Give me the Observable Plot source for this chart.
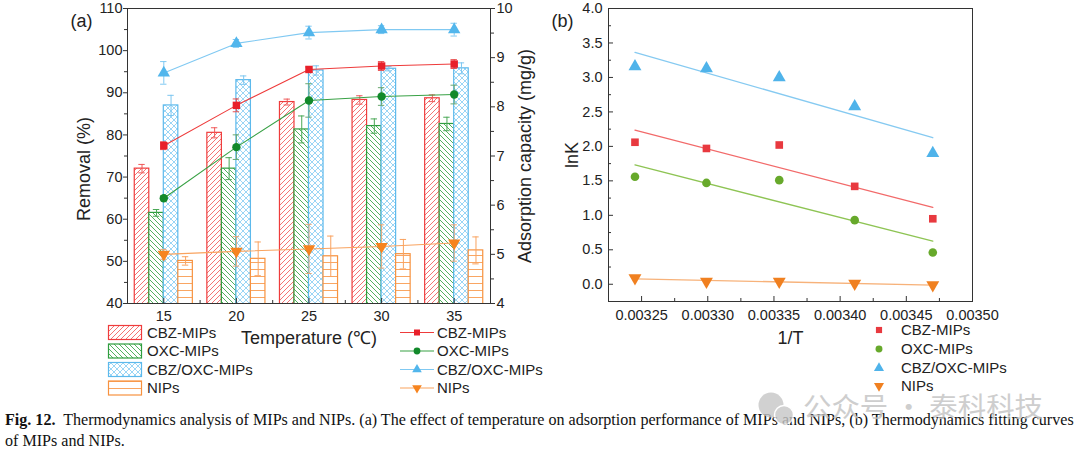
<!DOCTYPE html>
<html><head><meta charset="utf-8">
<script src="https://cdn.jsdelivr.net/npm/d3@7"></script>
<script src="https://cdn.jsdelivr.net/npm/@observablehq/plot@0.6"></script>
<style>
body{margin:0;background:#fff;}
#root{position:relative;width:1080px;height:453px;overflow:hidden;background:#fff;}
</style></head><body>
<svg width="0" height="0" style="position:absolute">
<defs>
<pattern id="pRed" patternUnits="userSpaceOnUse" width="5" height="5"><rect width="5" height="5" fill="#fff"/><path d="M-1,1 l2,-2 M0,5 l5,-5 M4,6 l2,-2" stroke="#f36464" stroke-width="0.9"/></pattern>
<pattern id="pGreen" patternUnits="userSpaceOnUse" width="5" height="5"><rect width="5" height="5" fill="#fff"/><path d="M-1,4 l2,2 M0,0 l5,5 M4,-1 l2,2" stroke="#3fa84d" stroke-width="0.9"/></pattern>
<pattern id="pBlue" patternUnits="userSpaceOnUse" width="6" height="6"><rect width="6" height="6" fill="#fff"/><path d="M0,0 l6,6 M-1,5 l2,2 M5,-1 l2,2 M0,6 l6,-6 M-1,1 l2,-2 M5,7 l2,-2" stroke="#8fd0f4" stroke-width="0.9"/></pattern>
<pattern id="pOrange" patternUnits="userSpaceOnUse" width="4" height="7"><rect width="4" height="7" fill="#fff"/><path d="M0,3.5 H4" stroke="#f9a663" stroke-width="1"/></pattern>
</defs></svg>
<div id="root"></div>
<script>
// ---------- data ----------
const temps = [15, 20, 25, 30, 35];
const series = ["CBZ-MIPs", "OXC-MIPs", "CBZ/OXC-MIPs", "NIPs"];
// removal (%) bars
const removalCBZ = [72.0, 80.5, 87.8, 88.3, 88.7];
const removalOXC = [61.5, 72.0, 81.3, 82.1, 82.6];
const removalMix = [87.0, 93.0, 95.3, 95.7, 95.8];
const removalNIP = [50.1, 50.6, 51.2, 51.7, 52.6];
const removalErrCBZ = [1.0, 1.2, 0.7, 1.0, 0.8];
const removalErrOXC = [0.8, 2.6, 3.2, 1.7, 1.6];
const removalErrMix = [2.4, 1.0, 1.1, 0.5, 1.3];
const removalErrNIP = [1.0, 4.0, 4.8, 3.5, 3.2];
// adsorption capacity (mg/g) lines
const capCBZ = [7.21, 8.03, 8.76, 8.83, 8.87];
const capOXC = [6.14, 7.18, 8.13, 8.21, 8.25];
const capMix = [8.69, 9.29, 9.51, 9.57, 9.57];
const capNIP = [5.00, 5.06, 5.11, 5.16, 5.23];
const capErrCBZ = [0.08, 0.13, 0.05, 0.09, 0.09];
const capErrOXC = [0.05, 0.25, 0.34, 0.18, 0.19];
const capErrMix = [0.23, 0.08, 0.13, 0.08, 0.13];
const capErrNIP = [0.10, 0.30, 0.50, 0.44, 0.37];
// thermodynamics panel (b)
const invT = [0.003245, 0.003299, 0.003354, 0.003411, 0.003470];
const lnKCBZ = [2.06, 1.97, 2.02, 1.42, 0.95];
const lnKOXC = [1.56, 1.47, 1.51, 0.93, 0.46];
const lnKMix = [3.16, 3.13, 3.00, 2.58, 1.90];
const lnKNIP = [0.09, 0.04, 0.04, 0.01, -0.01];
// ticks
const removalTicks = [40, 50, 60, 70, 80, 90, 100, 110];
const removalMinor = [45, 55, 65, 75, 85, 95, 105];
const capTicks = [4, 5, 6, 7, 8, 9, 10];
const capMinor = [4.5, 5.5, 6.5, 7.5, 8.5, 9.5];
const tempTicks = [15, 20, 25, 30, 35];
const tempMinor = [17.5, 22.5, 27.5, 32.5];
const lnKTicks = [0, 0.5, 1, 1.5, 2, 2.5, 3, 3.5, 4];
const lnKMinor = [-0.25, 0.25, 0.75, 1.25, 1.75, 2.25, 2.75, 3.25, 3.75];
const invTTicks = [0.00325, 0.0033, 0.00335, 0.0034, 0.00345, 0.0035];
const invTMinor = [0.003275, 0.003325, 0.003375, 0.003425, 0.003475];
const caption1 = "Thermodynamics analysis of MIPs and NIPs. (a) The effect of temperature on adsorption performance of MIPs and NIPs, (b) Thermodynamics fitting curves";
const caption2 = "of MIPs and NIPs.";

// ---------- styles ----------
const removal = [removalCBZ, removalOXC, removalMix, removalNIP];
const removalErr = [removalErrCBZ, removalErrOXC, removalErrMix, removalErrNIP];
const cap = [capCBZ, capOXC, capMix, capNIP];
const capErr = [capErrCBZ, capErrOXC, capErrMix, capErrNIP];
const lnK = [lnKCBZ, lnKOXC, lnKMix, lnKNIP];
const pats = ["url(#pRed)", "url(#pGreen)", "url(#pBlue)", "url(#pOrange)"];
const barStroke = ["#ef3c3c", "#2f9e3f", "#5cb9ec", "#f7923f"];
const barErr = ["#ef5a5a", "#4aa856", "#7cc6f0", "#f9a25f"];
const lineCol = ["#ee3b3b", "#38a145", "#80c9f2", "#f9a35f"];
const markCol = ["#e8202a", "#12892b", "#52b6ec", "#f6841f"];
const lineErr = ["#e85050", "#6aa870", "#80c9f2", "#e8a878"];
const symNames = ["square", "circle", "triangle", "triangle"];
const symRot = [0, 0, 0, 180];
const bMark = ["#e8393f", "#67a92b", "#4fb3ea", "#f08020"];
const bLine = ["#f26a6a", "#8ec454", "#86caf1", "#f7b27a"];
const fontFam = '"Liberation Sans", Arial, sans-serif';
const baseStyle = {fontFamily: fontFam, fontSize: "14.5px", color: "#222", background: "transparent", overflow: "visible"};

const root = document.getElementById("root");
function place(el, left, top) {
  el.style.position = "absolute"; el.style.left = left + "px"; el.style.top = top + "px";
  root.appendChild(el);
}

// ---------- panel (a): bars ----------
const A = {width: 560, height: 400, marginLeft: 127, marginRight: 70, marginTop: 8, marginBottom: 97};
const innerHA = A.height - A.marginTop - A.marginBottom;
const barMarks = [], barErrMarks = [];
series.forEach((s, i) => {
  const rows = temps.map((t, j) => ({t, v: removal[i][j], e: removalErr[i][j]}));
  const cx = d => d.t + i - 1.5;
  barMarks.push(Plot.rectY(rows, {x1: d => d.t + i - 2, x2: d => d.t + i - 1, y: "v", fill: pats[i], stroke: barStroke[i], strokeWidth: 1.2, clip: true}));
  barErrMarks.push(Plot.ruleX(rows, {x: cx, y1: d => d.v - d.e, y2: d => d.v + d.e, stroke: barErr[i], strokeWidth: 1}));
  barErrMarks.push(Plot.ruleY(rows, {y: d => d.v + d.e, x1: d => cx(d) - 0.22, x2: d => cx(d) + 0.22, stroke: barErr[i], strokeWidth: 1}));
  barErrMarks.push(Plot.ruleY(rows, {y: d => d.v - d.e, x1: d => cx(d) - 0.22, x2: d => cx(d) + 0.22, stroke: barErr[i], strokeWidth: 1}));
});
const plotA = Plot.plot({
  ...A, style: baseStyle,
  x: {domain: [12.5, 37.5]},
  y: {domain: [40, 110]},
  marks: [
    ...barMarks, ...barErrMarks,
    Plot.tickX(tempTicks, {x: d => d, insetTop: innerHA - 5, stroke: "#333"}),
    Plot.tickX(tempMinor, {x: d => d, insetTop: innerHA - 3, stroke: "#333"}),
    Plot.axisX(tempTicks, {tickSize: 0, tickPadding: 7, label: null, fontSize: 14.5}),
    Plot.axisY(removalTicks, {tickSize: 4, tickPadding: 1, label: null, fontSize: 14.5, stroke: "#333"}),
    Plot.axisY(removalMinor, {tickSize: 3, tickFormat: () => "", label: null, stroke: "#333"}),
    Plot.frame({stroke: "#333", strokeWidth: 1}),
    Plot.text(["Removal (%)"], {text: d => d, frameAnchor: "left", textAnchor: "middle", dx: -43, dy: 13, rotate: -90, fontSize: 18}),
    Plot.text(["Temperature (℃)"], {text: d => d, frameAnchor: "bottom", dy: 40, fontSize: 18}),
    Plot.text(["(a)"], {text: d => d, frameAnchor: "top-left", textAnchor: "start", dx: -57, dy: 6, fontSize: 18})
  ]
});
place(plotA, 0, 0);

// ---------- panel (a): lines (right axis) ----------
const lineMarks = [];
series.forEach((s, i) => {
  const rows = temps.map((t, j) => ({t, v: cap[i][j], e: capErr[i][j]}));
  lineMarks.push(Plot.line(rows, {x: "t", y: "v", stroke: lineCol[i], strokeWidth: 1.1}));
  lineMarks.push(Plot.ruleX(rows, {x: "t", y1: d => d.v - d.e, y2: d => d.v + d.e, stroke: lineErr[i], strokeWidth: 1}));
  lineMarks.push(Plot.ruleY(rows, {y: d => d.v + d.e, x1: d => d.t - 0.22, x2: d => d.t + 0.22, stroke: lineErr[i], strokeWidth: 1}));
  lineMarks.push(Plot.ruleY(rows, {y: d => d.v - d.e, x1: d => d.t - 0.22, x2: d => d.t + 0.22, stroke: lineErr[i], strokeWidth: 1}));
});
series.forEach((s, i) => {
  const rows = temps.map((t, j) => ({t, v: cap[i][j]}));
  lineMarks.push(Plot.dot(rows, {x: "t", y: "v", symbol: symNames[i], rotate: symRot[i], fill: markCol[i], r: i >= 2 ? 4.6 : 4.2}));
});
const plotA2 = Plot.plot({
  ...A, style: baseStyle,
  x: {domain: [12.5, 37.5], axis: null},
  y: {domain: [4, 10]},
  marks: [
    ...lineMarks,
    Plot.axisY(capTicks, {anchor: "right", tickSize: 4, tickPadding: 2, label: null, fontSize: 14.5, stroke: "#333"}),
    Plot.axisY(capMinor, {anchor: "right", tickSize: 3, tickFormat: () => "", label: null, stroke: "#333"}),
    Plot.text(["Adsorption capacity (mg/g)"], {text: d => d, frameAnchor: "right", textAnchor: "middle", dx: 35, rotate: -90, fontSize: 18})
  ]
});
place(plotA2, 0, 0);

// ---------- panel (b) ----------
const B = {width: 420, height: 400, marginLeft: 48, marginRight: 8, marginTop: 8, marginBottom: 99};
const innerHB = B.height - B.marginTop - B.marginBottom;
const innerWB = B.width - B.marginLeft - B.marginRight;
const bMarks = [];
series.forEach((s, i) => {
  const rows = invT.map((x, j) => ({x, y: lnK[i][j]}));
  bMarks.push(Plot.linearRegressionY(rows, {x: "x", y: "y", stroke: bLine[i], strokeWidth: 1.3, ci: 0}));
});
series.forEach((s, i) => {
  const rows = invT.map((x, j) => ({x, y: lnK[i][j]}));
  bMarks.push(Plot.dot(rows, {x: "x", y: "y", symbol: symNames[i], rotate: symRot[i], fill: bMark[i], r: i >= 2 ? 4.8 : 4.3}));
});
const plotB = Plot.plot({
  ...B, style: baseStyle,
  x: {domain: [0.003225, 0.0035]},
  y: {domain: [-0.25, 4]},
  marks: [
    ...bMarks,
    Plot.tickX(invTTicks, {x: d => d, insetTop: innerHB - 5, stroke: "#333"}),
    Plot.tickX(invTMinor, {x: d => d, insetTop: innerHB - 3, stroke: "#333"}),
    Plot.tickY(lnKTicks, {y: d => d, insetRight: innerWB - 5, stroke: "#333"}),
    Plot.tickY(lnKMinor, {y: d => d, insetRight: innerWB - 3, stroke: "#333"}),
    Plot.axisX(invTTicks, {tickSize: 0, tickPadding: 8, tickFormat: d3.format(".5f"), label: null, fontSize: 14.5}),
    Plot.axisY(lnKTicks, {tickSize: 0, tickPadding: 6, tickFormat: d3.format(".1f"), label: null, fontSize: 14.5}),
    Plot.frame({stroke: "#333", strokeWidth: 1}),
    Plot.text(["lnK"], {text: d => d, frameAnchor: "left", textAnchor: "middle", dx: -36, rotate: -90, fontSize: 18}),
    Plot.text(["1/T"], {text: d => d, frameAnchor: "bottom", dy: 42, fontSize: 18}),
    Plot.text(["(b)"], {text: d => d, frameAnchor: "top-left", textAnchor: "start", dx: -57, dy: 6, fontSize: 18})
  ]
});
place(plotB, 560, 0);

// ---------- legends, caption, watermark ----------
const ov = d3.create("svg").attr("width", 1080).attr("height", 453)
  .style("position", "absolute").style("left", "0px").style("top", "0px")
  .style("font-family", fontFam);
const d3sym = {square: d3.symbolSquare, circle: d3.symbolCircle, triangle: d3.symbolTriangle};
const rowsA = [332.5, 351, 369.5, 388];
series.forEach((s, i) => {
  const y = rowsA[i];
  ov.append("rect").attr("x", 108.5).attr("y", y - 7).attr("width", 33).attr("height", 14)
    .attr("fill", pats[i]).attr("stroke", barStroke[i]).attr("stroke-width", 1.2);
  ov.append("text").attr("x", 147).attr("y", y).attr("dy", "0.35em").attr("font-size", 15).attr("fill", "#222").text(s);
  ov.append("line").attr("x1", 400).attr("x2", 434).attr("y1", y).attr("y2", y).attr("stroke", lineCol[i]).attr("stroke-width", 1.1);
  ov.append("path").attr("d", d3.symbol(d3sym[symNames[i]], i >= 2 ? 40 : 36)())
    .attr("transform", `translate(417,${y}) rotate(${symRot[i]})`).attr("fill", markCol[i]);
  ov.append("text").attr("x", 437).attr("y", y).attr("dy", "0.35em").attr("font-size", 15).attr("fill", "#222").text(s);
});
const rowsB = [330, 349, 368, 386];
series.forEach((s, i) => {
  const y = rowsB[i];
  ov.append("path").attr("d", d3.symbol(d3sym[symNames[i]], i >= 2 ? 44 : 38)())
    .attr("transform", `translate(879,${y}) rotate(${symRot[i]})`).attr("fill", bMark[i]);
  ov.append("text").attr("x", 901).attr("y", y).attr("dy", "0.35em").attr("font-size", 15).attr("fill", "#222").text(s);
});
// caption
const serif = '"Liberation Serif", "Times New Roman", serif';
const c1 = ov.append("text").attr("x", 5).attr("y", 425).attr("font-family", serif).attr("font-size", 14).attr("fill", "#111").style("white-space", "pre");
c1.append("tspan").attr("font-weight", "bold").text("Fig. 12.");
c1.append("tspan").text("  " + caption1);
const c2 = ov.append("text").attr("x", 5).attr("y", 446).attr("font-family", serif).attr("font-size", 14).attr("fill", "#111").text(caption2);
// watermark (drawn over the caption, as in the reference)
const wm = ov.append("g").attr("opacity", 0.8);
wm.append("circle").attr("cx", 771).attr("cy", 405).attr("r", 12.5).attr("fill", "#c6c6c6");
wm.append("circle").attr("cx", 784).attr("cy", 415).attr("r", 9.5).attr("fill", "#c6c6c6").attr("stroke", "#fff").attr("stroke-width", 1.5);
wm.append("text").attr("x", 803).attr("y", 417).attr("font-family", '"Noto Sans CJK SC", sans-serif')
  .attr("font-size", 27).attr("fill", "#c2c2c2").attr("textLength", 240).attr("lengthAdjust", "spacingAndGlyphs")
  .text("公众号 · 泰科科技");
root.appendChild(ov.node());
const len = c1.node().getComputedTextLength();
if (len > 0) {
  const fs = 14 * 1070 / len;
  c1.attr("font-size", fs); c2.attr("font-size", fs);
}
</script>
</body></html>
